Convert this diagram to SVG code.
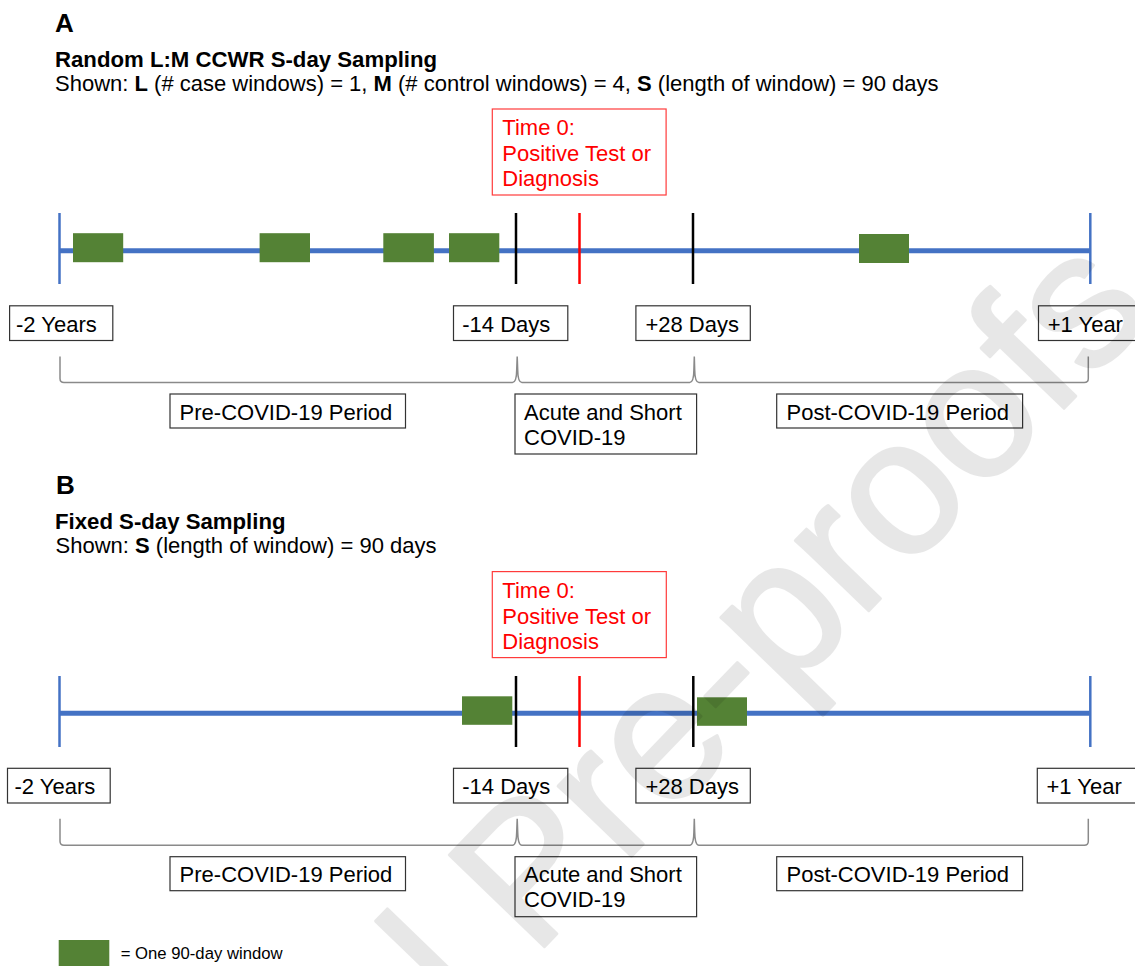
<svg xmlns="http://www.w3.org/2000/svg" width="1135" height="966" viewBox="0 0 1135 966">
<style>
text{font-family:"Liberation Sans",Arial,sans-serif;fill:#000}
.hd{font-size:26px;font-weight:bold}
.ttl{font-size:22.2px;font-weight:bold}
.t{font-size:22px}
.red{fill:#ff0000}
.box{fill:#fff;stroke:#333;stroke-width:1.2}
.rbox{fill:#fff;stroke:#ff3b3b;stroke-width:1.2}
.line{stroke:#4472c4;stroke-width:5;fill:none}
.end{stroke:#4472c4;stroke-width:2.5}
.blk{stroke:#000;stroke-width:2.5}
.rt{stroke:#ff0000;stroke-width:2.5}
.win{fill:#548235}
.br{fill:none;stroke:#8a8a8a;stroke-width:1.5}
.wm{font-family:"Liberation Sans",Arial,sans-serif;font-size:192px;fill:#000;stroke:#000;stroke-width:3;stroke-linejoin:round}
</style>

<!-- Panel A -->
<g id="headerA">
<text class="hd" x="55" y="31.5">A</text>
<text class="ttl" x="55" y="66.5">Random L:M CCWR S-day Sampling</text>
<text class="t" x="55" y="90.5">Shown: <tspan font-weight="bold">L</tspan> (# case windows) = 1, <tspan font-weight="bold">M</tspan> (# control windows) = 4, <tspan font-weight="bold">S</tspan> (length of window) = 90 days</text>
</g>
<g id="time0A">
<rect class="rbox" x="492.3" y="109" width="173.8" height="86"/>
<text class="t red" x="502.3" y="135">Time 0:</text>
<text class="t red" x="502.3" y="160.5">Positive Test or</text>
<text class="t red" x="502.3" y="185.5">Diagnosis</text>
</g>
<g id="connectorsA">
<line class="line" x1="59.5" y1="250.7" x2="1090.3" y2="250.7"/>
<line class="end" x1="59.5" y1="213" x2="59.5" y2="284"/>
<line class="end" x1="1090.3" y1="213" x2="1090.3" y2="284"/>
<line class="blk" x1="516" y1="213" x2="516" y2="284"/>
<line class="rt" x1="579.5" y1="213" x2="579.5" y2="284"/>
<line class="blk" x1="693" y1="213" x2="693" y2="284"/>
<path class="br" d="M60,356.6 V378.5 Q60,382.5 64,382.5 H512.5 Q516.5,382.5 516.7,370 L517.2,356.6 L517.7,370 Q517.9,382.5 521.9,382.5 H689.7 Q693.7,382.5 693.9,370 L694.3,356.6 L694.7,370 Q694.9,382.5 698.9,382.5 H1084.3 Q1088.3,382.5 1088.3,378.5 V356.6"/>
</g>
<g id="windowsA">
<rect class="win" x="73" y="233.2" width="50.2" height="29"/>
<rect class="win" x="259.6" y="233.2" width="50.4" height="29"/>
<rect class="win" x="383.3" y="233.2" width="50.6" height="29"/>
<rect class="win" x="449" y="233.2" width="50.3" height="29"/>
<rect class="win" x="859" y="234" width="50" height="29"/>
</g>
<g id="labelA_m2y"><rect class="box" x="9.6" y="305.8" width="103.2" height="34.7"/><text class="t" x="16" y="331.5">-2 Years</text></g>
<g id="labelA_m14d"><rect class="box" x="453.5" y="305.8" width="114.3" height="34.7"/><text class="t" x="462.3" y="331.5">-14 Days</text></g>
<g id="labelA_p28d"><rect class="box" x="635.9" y="305.8" width="114.4" height="34.7"/><text class="t" x="645.4" y="331.5">+28 Days</text></g>
<g id="labelA_p1y"><rect class="box" x="1038.5" y="305.8" width="100" height="34.7"/><text class="t" x="1047.7" y="331.5">+1 Year</text></g>
<g id="periodA_pre"><rect class="box" x="170" y="394" width="235.5" height="34"/><text class="t" x="179.6" y="419.5">Pre-COVID-19 Period</text></g>
<g id="periodA_acute"><rect class="box" x="515" y="394" width="181.6" height="60"/><text class="t" x="524" y="419.5">Acute and Short</text><text class="t" x="524" y="444.7">COVID-19</text></g>
<g id="periodA_post"><rect class="box" x="776.7" y="394" width="245.9" height="34"/><text class="t" x="786.5" y="419.5">Post-COVID-19 Period</text></g>

<!-- Panel B -->
<g id="headerB">
<text class="hd" x="56" y="494.3">B</text>
<text class="ttl" x="55" y="529.3">Fixed S-day Sampling</text>
<text class="t" x="55.5" y="553">Shown: <tspan font-weight="bold">S</tspan> (length of window) = 90 days</text>
</g>
<g id="time0B">
<rect class="rbox" x="492.3" y="571.6" width="174" height="86"/>
<text class="t red" x="502.3" y="598">Time 0:</text>
<text class="t red" x="502.3" y="623.5">Positive Test or</text>
<text class="t red" x="502.3" y="648.5">Diagnosis</text>
</g>
<g id="connectorsB">
<line class="line" x1="59.5" y1="713.3" x2="1090.3" y2="713.3"/>
<line class="end" x1="59.5" y1="676" x2="59.5" y2="747"/>
<line class="end" x1="1090.3" y1="676" x2="1090.3" y2="747"/>
<line class="rt" x1="579.5" y1="676" x2="579.5" y2="747"/>
<path class="br" d="M60,818.8 V841.2 Q60,845.2 64,845.2 H512.5 Q516.5,845.2 516.7,832 L517.2,818.8 L517.7,832 Q517.9,845.2 521.9,845.2 H689.7 Q693.7,845.2 693.9,832 L694.3,818.8 L694.7,832 Q694.9,845.2 698.9,845.2 H1084.3 Q1088.3,845.2 1088.3,841.2 V818.8"/>
</g>
<g id="windowsB">
<rect class="win" x="462" y="696.3" width="50.3" height="28.5"/>
<rect class="win" x="697" y="697.3" width="50" height="28.5"/>
</g>
<g id="ticksB">
<line class="blk" x1="516" y1="676" x2="516" y2="747"/>
<line class="blk" x1="693.3" y1="676" x2="693.3" y2="747"/>
</g>
<g id="labelB_m2y"><rect class="box" x="7.5" y="768.3" width="102.7" height="34.7"/><text class="t" x="14.5" y="794">-2 Years</text></g>
<g id="labelB_m14d"><rect class="box" x="453.5" y="768.3" width="114.3" height="34.7"/><text class="t" x="462.3" y="794">-14 Days</text></g>
<g id="labelB_p28d"><rect class="box" x="635.9" y="768.3" width="114.4" height="34.7"/><text class="t" x="645.4" y="794">+28 Days</text></g>
<g id="labelB_p1y"><rect class="box" x="1037.3" y="768.3" width="100" height="34.7"/><text class="t" x="1046.5" y="794">+1 Year</text></g>
<g id="periodB_pre"><rect class="box" x="170" y="856.7" width="235.5" height="34"/><text class="t" x="179.6" y="882">Pre-COVID-19 Period</text></g>
<g id="periodB_acute"><rect class="box" x="515" y="856.7" width="181.6" height="60"/><text class="t" x="524" y="882">Acute and Short</text><text class="t" x="524" y="907.2">COVID-19</text></g>
<g id="periodB_post"><rect class="box" x="776.7" y="856.7" width="245.9" height="34"/><text class="t" x="786.5" y="882">Post-COVID-19 Period</text></g>

<!-- Legend -->
<g id="legend">
<rect class="win" x="58.7" y="940" width="50.6" height="30"/>
<text x="120.7" y="958.8" font-size="16.7px">= One 90-day window</text>
</g>

<!-- Watermark -->
<g id="watermark" opacity="0.09">
<text class="wm" transform="translate(58.9,1449.3) rotate(-46)" x="0" y="0">Journal Pre-proofs</text>
</g>
</svg>
